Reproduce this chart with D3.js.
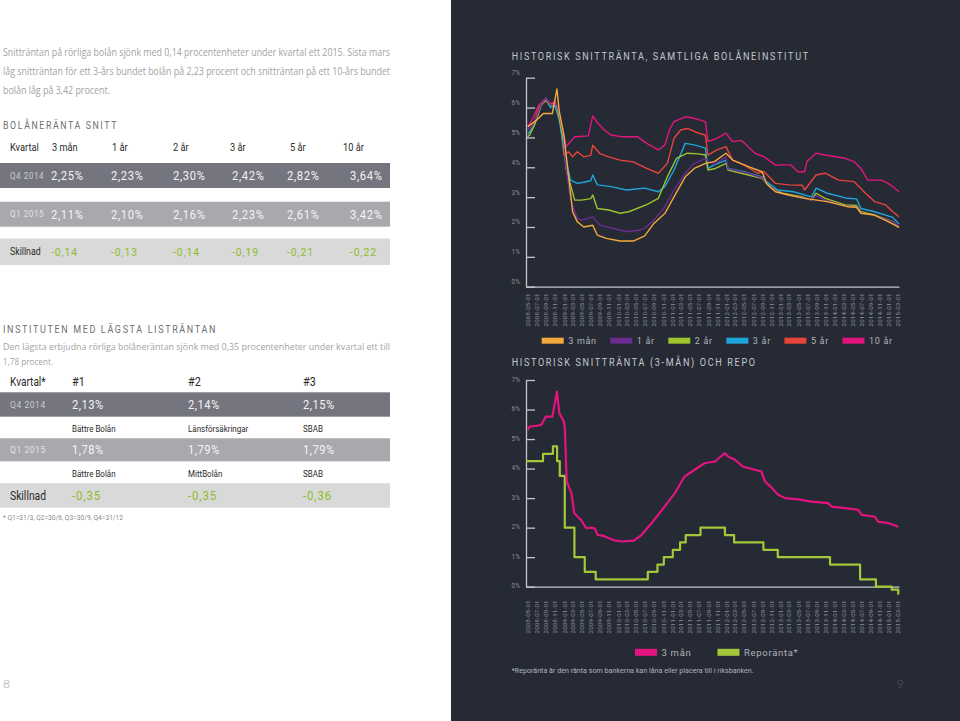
<!DOCTYPE html>
<html><head><meta charset="utf-8">
<script src="https://cdn.jsdelivr.net/npm/d3@7"></script>
<style>body{margin:0;background:#fff;} svg{display:block;}</style>
</head><body><svg id="c" width="960" height="721"></svg>
<script>
// ---------------- DATA ----------------
const introLines = [
  "Snitträntan på rörliga bolån sjönk med 0,14 procentenheter under kvartal ett 2015. Sista mars",
  "låg snitträntan för ett 3-års bundet bolån på 2,23 procent och snitträntan på ett 10-års bundet",
  "bolån låg på 3,42 procent."
];
const maturities = ["3 mån","1 år","2 år","3 år","5 år","10 år"];
const q4_2014 = [2.25,2.23,2.30,2.42,2.82,3.64];
const q1_2015 = [2.11,2.10,2.16,2.23,2.61,3.42];
const diffAvg = [-0.14,-0.13,-0.14,-0.19,-0.21,-0.22];

const lowIntro = [
  "Den lägsta erbjudna rörliga bolåneräntan sjönk med 0,35 procentenheter under kvartal ett till",
  "1,78 procent."
];
const lowHeaders = ["#1","#2","#3"];
const lowQ4 = [2.13,2.14,2.15];
const lowQ4Names = ["Bättre Bolån","Länsförsäkringar","SBAB"];
const lowQ1 = [1.78,1.79,1.79];
const lowQ1Names = ["Bättre Bolån","MittBolån","SBAB"];
const lowDiff = [-0.35,-0.35,-0.36];

const tickDates = [
  "2008-05-01","2008-07-01","2008-09-01","2008-11-01",
  "2009-01-01","2009-03-01","2009-05-01","2009-07-01","2009-09-01","2009-11-01",
  "2010-01-01","2010-03-01","2010-05-01","2010-07-01","2010-09-01","2010-11-01",
  "2011-01-01","2011-03-01","2011-05-01","2011-07-01","2011-09-01","2011-11-01",
  "2012-01-01","2012-03-01","2012-05-01","2012-07-01","2012-09-01","2012-11-01",
  "2013-01-01","2013-03-01","2013-05-01","2013-07-01","2013-09-01","2013-11-01",
  "2014-01-01","2014-03-01","2014-05-01","2014-07-01","2014-09-01","2014-11-01",
  "2015-01-01","2015-03-01"
];
const yTicks = [0,1,2,3,4,5,6,7];

const rate10y = [["2008-05-01",5.35],["2008-06-01",5.6],["2008-07-15",6.08],["2008-09-01",6.31],["2008-10-01",6.14],["2008-11-01",6.2],["2008-12-01",5.75],["2009-01-01",5.08],["2009-01-15",4.69],["2009-03-15",5.02],["2009-06-15",5.05],["2009-07-15",5.72],["2009-08-15",5.5],["2009-10-01",5.25],["2009-11-15",5.08],["2010-02-01",5.02],["2010-05-15",5.02],["2010-07-15",4.8],["2010-10-01",4.58],["2010-11-15",4.75],["2010-12-15",5.25],["2011-01-15",5.53],["2011-04-01",5.69],["2011-06-01",5.64],["2011-08-15",5.53],["2011-09-01",4.86],["2011-11-01",4.97],["2012-01-01",5.14],["2012-02-15",4.86],["2012-04-15",4.9],["2012-07-15",4.47],["2012-09-15",4.35],["2012-12-01",4.07],["2013-01-15",4.08],["2013-03-15",4.08],["2013-05-01",3.85],["2013-06-15",3.85],["2013-07-01",4.19],["2013-09-01",4.47],["2013-11-01",4.41],["2014-03-15",4.3],["2014-05-15",4.19],["2014-07-01",3.96],["2014-08-15",3.57],["2014-11-15",3.57],["2015-01-01",3.46],["2015-02-01",3.35],["2015-03-15",3.18]];
const rate5y = [["2008-05-01",5.25],["2008-06-15",5.5],["2008-07-15",6.0],["2008-09-01",6.25],["2008-10-01",6.1],["2008-11-01",6.15],["2008-12-01",5.8],["2009-01-01",4.41],["2009-02-01",4.52],["2009-03-01",4.35],["2009-04-01",4.52],["2009-05-15",4.35],["2009-07-01",4.4],["2009-07-15",4.74],["2009-09-01",4.46],["2009-11-01",4.35],["2010-01-15",4.24],["2010-04-15",4.18],["2010-07-15",3.96],["2010-10-01",3.8],["2010-12-01",4.13],["2011-01-15",4.97],["2011-03-01",5.25],["2011-04-15",5.3],["2011-07-01",5.14],["2011-08-15",5.08],["2011-09-01",4.41],["2011-11-01",4.58],["2012-01-01",4.69],["2012-02-15",4.24],["2012-05-01",4.08],["2012-08-01",3.8],["2012-09-15",3.85],["2012-12-01",3.46],["2013-03-01",3.41],["2013-06-01",3.4],["2013-06-15",3.24],["2013-09-01",3.74],["2013-11-01",3.8],["2014-02-01",3.57],["2014-05-15",3.52],["2014-08-01",3.13],["2014-10-01",2.85],["2014-12-15",2.74],["2015-02-01",2.51],["2015-03-15",2.34]];
const rate3y = [["2008-05-01",5.1],["2008-06-15",5.4],["2008-08-01",6.1],["2008-09-01",6.3],["2008-10-01",6.0],["2008-11-01",6.05],["2008-12-01",5.6],["2009-01-01",4.6],["2009-01-15",4.24],["2009-02-15",3.57],["2009-04-01",3.46],["2009-05-15",3.5],["2009-07-01",3.55],["2009-07-15",3.74],["2009-08-15",3.41],["2009-11-15",3.35],["2010-03-01",3.24],["2010-07-01",3.3],["2010-10-01",3.18],["2010-11-15",3.35],["2011-01-15",3.91],["2011-04-01",4.8],["2011-06-01",4.75],["2011-08-15",4.64],["2011-09-01",3.96],["2011-10-15",4.08],["2012-01-01",4.24],["2012-01-15",3.96],["2012-05-01",3.85],["2012-09-01",3.68],["2012-10-01",3.52],["2012-12-15",3.24],["2013-04-01",3.18],["2013-08-01",3.01],["2013-09-01",3.3],["2013-11-15",3.13],["2014-04-01",2.96],["2014-06-01",2.94],["2014-07-01",2.62],["2014-10-01",2.51],["2015-02-01",2.32],["2015-03-15",2.1]];
const rate2y = [["2008-05-01",5.02],["2008-05-15",5.08],["2008-06-15",5.4],["2008-08-01",6.08],["2008-09-01",6.25],["2008-10-01",6.08],["2008-11-15",6.08],["2008-12-01",5.64],["2009-01-01",4.86],["2009-01-15",3.96],["2009-03-15",2.9],["2009-05-01",2.9],["2009-07-01",2.95],["2009-07-15",3.07],["2009-08-15",2.62],["2009-11-01",2.57],["2010-01-15",2.46],["2010-03-15",2.51],["2010-07-15",2.75],["2010-10-01",2.96],["2010-12-01",3.68],["2011-02-01",4.3],["2011-04-15",4.47],["2011-07-01",4.45],["2011-08-15",4.41],["2011-09-01",3.91],["2011-10-15",3.95],["2012-01-01",4.13],["2012-01-15",3.91],["2012-06-01",3.74],["2012-09-01",3.63],["2012-11-01",3.3],["2013-01-15",3.13],["2013-06-01",3.01],["2013-08-01",2.9],["2013-09-01",3.13],["2013-11-01",2.96],["2014-03-15",2.74],["2014-06-01",2.72],["2014-07-01",2.51],["2014-10-01",2.4],["2015-02-01",2.18],["2015-03-15",1.99]];
const rate1y = [["2008-05-01",5.25],["2008-06-15",5.5],["2008-08-01",6.1],["2008-09-01",6.3],["2008-10-01",6.1],["2008-11-15",6.1],["2008-12-01",5.8],["2009-01-01",5.0],["2009-01-15",4.0],["2009-02-15",2.9],["2009-04-01",2.29],["2009-05-01",2.23],["2009-07-15",2.34],["2009-09-01",2.06],["2009-12-01",1.95],["2010-03-01",1.84],["2010-06-01",1.9],["2010-07-01",1.96],["2010-09-01",2.23],["2010-11-15",2.68],["2011-01-15",3.24],["2011-04-01",3.8],["2011-06-01",4.13],["2011-08-15",4.3],["2011-09-01",4.2],["2011-10-15",4.1],["2012-01-01",4.35],["2012-01-15",3.95],["2012-06-01",3.8],["2012-09-01",3.65],["2012-11-01",3.3],["2013-01-15",3.1],["2013-06-01",2.98],["2013-08-01",2.9],["2013-09-01",3.05],["2013-11-01",2.9],["2014-03-15",2.7],["2014-06-01",2.68],["2014-07-01",2.48],["2014-10-01",2.38],["2015-02-01",2.17],["2015-03-15",2.02]];
const rate3m = [["2008-05-01",5.36],["2008-07-01",5.58],["2008-08-15",5.8],["2008-10-15",5.8],["2008-11-15",6.62],["2008-12-01",5.86],["2009-01-01",5.08],["2009-02-01",3.74],["2009-03-01",2.51],["2009-04-01",2.18],["2009-05-15",2.0],["2009-07-15",2.06],["2009-08-15",1.73],["2009-10-15",1.62],["2010-01-15",1.53],["2010-04-15",1.53],["2010-07-01",1.7],["2010-09-01",2.12],["2010-11-15",2.46],["2011-01-15",3.01],["2011-04-01",3.68],["2011-06-01",3.96],["2011-08-15",4.13],["2011-10-15",4.19],["2012-01-01",4.47],["2012-02-15",4.24],["2012-06-01",4.02],["2012-09-01",3.85],["2012-10-01",3.46],["2012-12-01",3.18],["2013-03-01",3.07],["2013-06-15",2.96],["2013-11-15",2.85],["2014-04-01",2.68],["2014-06-01",2.66],["2014-07-01",2.46],["2014-10-01",2.4],["2015-01-01",2.18],["2015-03-15",1.99]];

const hist3m = [["2008-05-01",5.31],["2008-05-15",5.42],["2008-07-01",5.45],["2008-08-01",5.48],["2008-08-15",5.6],["2008-09-01",5.76],["2008-10-15",5.76],["2008-11-15",6.61],["2008-12-01",5.88],["2009-01-01",5.59],["2009-01-08",5.31],["2009-01-20",3.56],["2009-02-21",3.17],["2009-03-12",2.49],["2009-04-27",2.26],["2009-06-01",1.98],["2009-07-06",2.0],["2009-07-27",1.98],["2009-08-18",1.75],["2009-09-27",1.72],["2009-12-01",1.58],["2010-01-25",1.53],["2010-04-18",1.56],["2010-06-09",1.75],["2010-08-16",2.15],["2010-11-12",2.71],["2011-01-21",3.17],["2011-02-12",3.36],["2011-03-27",3.73],["2011-06-03",3.96],["2011-08-09",4.18],["2011-10-18",4.24],["2011-12-24",4.52],["2012-01-15",4.41],["2012-03-01",4.3],["2012-04-24",4.07],["2012-07-12",3.96],["2012-08-27",3.9],["2012-09-21",3.56],["2012-11-06",3.34],["2012-12-18",3.11],["2013-02-03",3.0],["2013-05-03",2.96],["2013-08-01",2.88],["2013-11-21",2.83],["2013-12-16",2.71],["2014-03-13",2.66],["2014-06-12",2.6],["2014-07-06",2.43],["2014-10-03",2.37],["2014-10-25",2.2],["2015-01-04",2.15],["2015-03-10",2.03]];
const repo = [["2008-04-20",4.25],["2008-08-13",4.5],["2008-10-19",4.75],["2008-11-16",4.25],["2008-12-04",3.75],["2009-01-07",2.0],["2009-03-13",1.0],["2009-05-22",0.5],["2009-08-04",0.25],["2010-07-22",0.5],["2010-09-25",0.75],["2010-11-07",1.0],["2011-01-07",1.25],["2011-02-25",1.5],["2011-04-04",1.75],["2011-07-13",2.0],["2011-12-25",1.75],["2012-02-25",1.5],["2012-09-10",1.25],["2012-12-16",1.0],["2013-12-04",0.75],["2014-06-25",0.25],["2014-10-10",0.0],["2015-01-25",-0.1],["2015-03-10",-0.25],["2015-03-13",-0.25]];

// ---------------- HELPERS ----------------
const parse = d3.utcParse("%Y-%m-%d");
const loc = d3.formatLocale({decimal:",", thousands:" ", grouping:[3], currency:["","kr"], minus:"-"});
const f2 = loc.format(".2f");
const fPct = v => f2(v) + "%";
const svg = d3.select("#c");
const FONT = "Roboto, 'Open Sans', sans-serif";

function T(parent, x, y, s, o = {}) {
  const t = parent.append("text").attr("x", x).attr("y", y).text(s)
    .attr("font-size", o.size || 10).attr("fill", o.fill || "#333")
    .attr("font-family", o.font || FONT)
    .attr("dominant-baseline", "central");
  if (o.anchor) t.attr("text-anchor", o.anchor);
  if (o.ls) t.attr("letter-spacing", o.ls);
  if (o.weight) t.attr("font-weight", o.weight);
  if (o.len) t.attr("textLength", o.len).attr("lengthAdjust", "spacingAndGlyphs");
  if (o.squeeze) {
    const w = t.node().getComputedTextLength();
    t.attr("textLength", w * o.squeeze).attr("lengthAdjust", "spacingAndGlyphs");
  }
  return t;
}

// ---------------- BACKGROUNDS ----------------
svg.append("rect").attr("x", 0).attr("y", 0).attr("width", 960).attr("height", 721).attr("fill", "#ffffff");
svg.append("rect").attr("x", 451).attr("y", 0).attr("width", 509).attr("height", 721).attr("fill", "#262a35");

// ---------------- LEFT PAGE ----------------
const L = svg.append("g");
const introLens = [387, 387, 107];
introLines.forEach((s, i) => T(L, 3, 52 + i * 19, s, {size: 10, fill: "#a3a3a3", font: "'Open Sans', sans-serif", len: introLens[i]}));

// Table 1
T(L, 3, 125, "BOLÅNERÄNTA SNITT", {size: 11, fill: "#6f6f6f", ls: 2, len: 115});
const hX1 = [52, 112, 173, 230, 290, 343];
const vX1 = [51, 111, 173, 232, 287, 350];
T(L, 10, 147, "Kvartal", {size: 11, fill: "#2a2a2a", squeeze: 0.84});
maturities.forEach((m, i) => T(L, hX1[i], 147, m, {size: 11, fill: "#2a2a2a", squeeze: 0.84}));

const band = (y, h, c) => L.append("rect").attr("x", 0).attr("y", y).attr("width", 390).attr("height", h).attr("fill", c);
band(163, 25, "#75757f");
band(201.7, 25, "#a8a8ad");
band(238.5, 26.5, "#d9d9d9");
T(L, 10, 175.5, "Q4 2014", {size: 9, fill: "#c9cad0", ls: 0.6, squeeze: 0.9});
q4_2014.forEach((v, i) => T(L, vX1[i], 175.5, fPct(v), {size: 13, fill: "#f2f2f2", ls: 0.8, squeeze: 0.86}));
T(L, 10, 214, "Q1 2015", {size: 9, fill: "#e4e4e6", ls: 0.6, squeeze: 0.9});
q1_2015.forEach((v, i) => T(L, vX1[i], 214, fPct(v), {size: 13, fill: "#f4f4f4", ls: 0.8, squeeze: 0.86}));
T(L, 10, 251.5, "Skillnad", {size: 10, fill: "#2a2a2a", squeeze: 0.88});
diffAvg.forEach((v, i) => T(L, vX1[i], 251.5, f2(v), {size: 11.5, fill: "#8dbd26", ls: 1, squeeze: 0.9}));

// Table 2
T(L, 3, 329, "INSTITUTEN MED LÄGSTA LISTRÄNTAN", {size: 11, fill: "#6f6f6f", ls: 2, len: 214});
lowIntro.forEach((s, i) => T(L, 3, 346.7 + i * 15, s, {size: 9.5, fill: "#a3a3a3", font: "'Open Sans', sans-serif", len: i === 0 ? 387 : 50}));
const cX2 = [72, 188, 303];
T(L, 10, 381.7, "Kvartal*", {size: 12, fill: "#2a2a2a", squeeze: 0.84});
lowHeaders.forEach((h, i) => T(L, cX2[i], 381.7, h, {size: 12, fill: "#2a2a2a", squeeze: 0.9}));
band(392.3, 24.4, "#75757f");
band(438.3, 23, "#a8a8ad");
band(483.3, 24.4, "#d9d9d9");
T(L, 10, 404.5, "Q4 2014", {size: 9.5, fill: "#c9cad0", ls: 0.6, squeeze: 0.9});
lowQ4.forEach((v, i) => T(L, cX2[i], 404.5, fPct(v), {size: 13, fill: "#f2f2f2", ls: 0.6, squeeze: 0.86}));
lowQ4Names.forEach((s, i) => T(L, cX2[i], 428.3, s, {size: 9.5, fill: "#2a2a2a", squeeze: 0.84}));
T(L, 10, 449.7, "Q1 2015", {size: 9.5, fill: "#e4e4e6", ls: 0.6, squeeze: 0.9});
lowQ1.forEach((v, i) => T(L, cX2[i], 449.7, fPct(v), {size: 13, fill: "#f4f4f4", ls: 0.6, squeeze: 0.86}));
lowQ1Names.forEach((s, i) => T(L, cX2[i], 473.3, s, {size: 9.5, fill: "#2a2a2a", squeeze: 0.84}));
T(L, 10, 495.5, "Skillnad", {size: 12, fill: "#2a2a2a", squeeze: 0.86});
lowDiff.forEach((v, i) => T(L, cX2[i], 495.5, f2(v), {size: 13, fill: "#8dbd26", ls: 1, squeeze: 0.88}));
T(L, 3, 518.3, "* Q1=31/3, Q2=30/6, Q3=30/9, Q4=31/12", {size: 6.5, fill: "#8a8a8a", len: 120});
T(L, 3, 683, "8", {size: 12, fill: "#9b9b9b", font: "Lato, sans-serif", weight: 300});

// ---------------- RIGHT PAGE: CHARTS ----------------
const R = svg.append("g");
const x = d3.scaleUtc().domain([parse("2008-04-20"), parse("2015-03-15")]).range([526, 899]);

function drawChart(cfg) {
  const g = R.append("g");
  const y = d3.scaleLinear().domain([0, 7]).range([cfg.y0, cfg.y7]);
  T(g, 511.7, cfg.titleY, cfg.title, {size: 11, fill: "#c4c6cd", ls: 2, len: cfg.titleLen});

  const ya = g.append("g").attr("transform", "translate(526,0)")
    .call(d3.axisLeft(y).tickValues(yTicks).tickSize(-9).tickSizeOuter(0).tickFormat(d => d + "%"));
  ya.select(".domain").attr("stroke", "#c5c7cd").attr("stroke-width", 1.3);
  ya.selectAll(".tick line").attr("stroke", "#c5c7cd").attr("stroke-width", 1.3);
  ya.selectAll(".tick text").attr("x", -6).attr("dy", null).attr("y", cfg.labelDy)
    .attr("dominant-baseline", "central").attr("fill", "#8b8e97")
    .attr("font-size", 6.5).attr("font-family", FONT);

  const xa = g.append("g").attr("transform", `translate(0,${cfg.y0})`)
    .call(d3.axisBottom(x).tickValues(tickDates.map(parse)).tickSize(0).tickSizeOuter(0)
      .tickFormat(d3.utcFormat("%Y-%m-%d")));
  xa.select(".domain").attr("stroke", "#c5c7cd").attr("stroke-width", 1.3);
  xa.selectAll(".tick text").attr("transform", "rotate(-90)").attr("x", -cfg.xLabOff).attr("y", 0)
    .attr("dy", "0.35em").attr("text-anchor", "end").attr("fill", "#8b8e97")
    .attr("font-size", 6).attr("letter-spacing", 0.3).attr("font-family", FONT);

  cfg.series.forEach(s => {
    const line = d3.line().x(d => x(d[0])).y(d => y(d[1])).curve(s.curve || d3.curveLinear);
    g.append("path").datum(s.data.map(([d, v]) => [parse(d), v]))
      .attr("d", line).attr("fill", "none").attr("stroke", s.color)
      .attr("stroke-width", cfg.sw).attr("stroke-linejoin", "round");
  });

  // legend
  let lx = cfg.legendX;
  cfg.legend.forEach(it => {
    g.append("rect").attr("x", lx).attr("y", cfg.legendY - cfg.swH / 2).attr("width", 22).attr("height", cfg.swH).attr("fill", it.color);
    const t = T(g, lx + 26.5, cfg.legendY, it.name, {size: cfg.legendFs, fill: "#b0b3bb", ls: 0.7});
    lx += 26.5 + t.node().getComputedTextLength() + cfg.legendGap;
  });
}

const C = {m3: "#f5a93a", y1: "#6b2c8f", y2: "#9cc42c", y3: "#1fa4dc", y5: "#e8443a", y10: "#e2157f"};
drawChart({
  title: "HISTORISK SNITTRÄNTA, SAMTLIGA BOLÅNEINSTITUT", titleY: 56, titleLen: 298,
  y0: 286.7, y7: 77.7, labelDy: -5, xLabOff: 6.5, sw: 1.4,
  series: [
    {data: rate10y, color: C.y10}, {data: rate5y, color: C.y5}, {data: rate3y, color: C.y3},
    {data: rate2y, color: C.y2}, {data: rate1y, color: C.y1}, {data: rate3m, color: C.m3}
  ],
  legendX: 541.7, legendY: 340.7, swH: 6, legendFs: 9, legendGap: 13.5,
  legend: [
    {name: maturities[0], color: C.m3}, {name: maturities[1], color: C.y1}, {name: maturities[2], color: C.y2},
    {name: maturities[3], color: C.y3}, {name: maturities[4], color: C.y5}, {name: maturities[5], color: C.y10}
  ]
});
drawChart({
  title: "HISTORISK SNITTRÄNTA (3-MÅN) OCH REPO", titleY: 362.5, titleLen: 245,
  y0: 586.7, y7: 380, labelDy: -1, xLabOff: 13.5, sw: 2.2,
  series: [
    {data: repo, color: "#a3c83a", curve: d3.curveStepAfter},
    {data: hist3m, color: "#e5137f"}
  ],
  legendX: 635, legendY: 652.3, swH: 7, legendFs: 9.5, legendGap: 26,
  legend: [{name: "3 mån", color: "#e5137f"}, {name: "Reporänta*", color: "#a3c83a"}]
});
T(R, 511.7, 671, "*Reporänta är den ränta som  bankerna kan låna eller placera till i riksbanken.", {size: 6.5, fill: "#b0b3bb", len: 242});
T(R, 897, 683, "9", {size: 12, fill: "#555a66", font: "Lato, sans-serif", weight: 300});
</script>
</body></html>
